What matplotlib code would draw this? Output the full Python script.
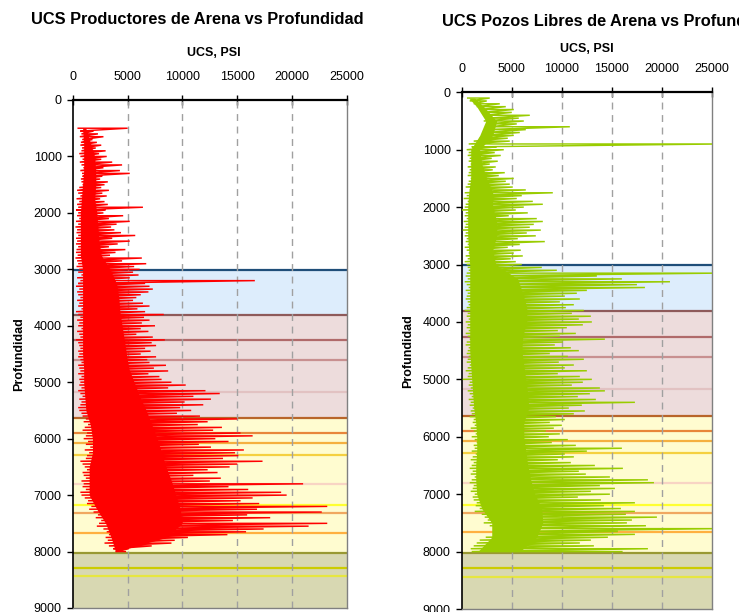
import numpy as np
import matplotlib
matplotlib.use("Agg")
import matplotlib.pyplot as plt

plt.rcParams['font.family'] = ['Liberation Sans', 'DejaVu Sans']

# ---------------- data ----------------
# Left panel: Productores de Arena (depth 500..8000 step 50), UCS low / high of trace
prod_depth = list(range(500, 8001, 50))
prod_low = [
    500, 700, 800, 650, 900, 750, 700, 850, 800, 600,
    700, 900, 650, 800, 1000, 700, 850, 900, 750, 800,
    900, 600, 400, 500, 700, 350, 600, 400, 500, 300,
    500, 400, 600, 300, 500, 250, 400, 350, 500, 300,
    400, 300, 500, 350, 300, 450, 250, 400, 500, 350,
    600, 500, 800, 400, 700, 500, 300, 600, 400, 500,
    700, 400, 600, 500, 800, 300, 500, 700, 400, 600,
    500, 800, 400, 600, 700, 300, 500, 600, 700, 500,
    600, 500, 700, 800, 500, 600, 700, 500, 800, 600,
    700, 600, 800, 500, 700, 900, 600, 800, 700, 500,
    600, 800, 900, 1200, 1000, 1400, 1100, 900, 1300, 1200,
    1000, 1400, 1200, 1600, 1100, 1500, 1300, 1200, 700, 900,
    1100, 1300, 900, 1000, 1200, 800, 1000, 900, 1200, 700,
    800, 1100, 1400, 1300, 1700, 1500, 1900, 2300, 2100, 2600,
    2400, 2200, 2800, 3100, 3300, 3000, 3200, 2900, 3300, 3700,
    3900,
]
prod_high = [
    5000, 1900, 2300, 2800, 1800, 2200, 2600, 2100, 3000, 2400,
    3100, 2600, 3600, 4500, 2800, 4300, 5200, 2700, 2500, 3200,
    2900, 2600, 3300, 2700, 3100, 2500, 2900, 3200, 6400, 3000,
    2800, 4600, 3300, 5200, 4000, 3500, 3800, 4400, 5700, 3600,
    5200, 4100, 3300, 4800, 3900, 3400, 6300, 4500, 6700, 5600,
    6100, 5500, 6000, 5200, 16600, 6600, 7000, 7300, 6900, 6200,
    5800, 5500, 6400, 7000, 5900, 6600, 8300, 6500, 7000, 6300,
    7500, 6200, 6900, 5800, 7300, 8400, 7200, 7600, 6600, 7100,
    6200, 7600, 6800, 7000, 8500, 7400, 8700, 6900, 7900, 8100,
    9000, 10300, 8700, 12100, 13400, 11000, 12600, 10200, 11900, 9800,
    10800, 9500, 11600, 15000, 12300, 11400, 13600, 12800, 15300, 16400,
    13000, 14200, 11500, 12600, 15600, 14800, 15100, 13700, 17300, 15000,
    14300, 12300, 13200, 11000, 13500, 12500, 21000, 14200, 16000, 19000,
    19500, 16400, 15300, 17000, 23200, 16800, 22700, 15900, 18000, 14600,
    23200, 21500, 17400, 15800, 14100, 10500, 9300, 9000, 7200, 5100,
    4800,
]
# dense (solid) part of the trace, every 250 ft
prod_core_depth = list(range(500, 8001, 250))
prod_core_lo = [
    900, 1000, 1000, 1000, 900, 800, 700, 700, 700, 700,
    900, 900, 900, 900, 900, 900, 900, 1000, 1000, 1100,
    1200, 1600, 1800, 1800, 1500, 1500, 1500, 2200, 3000, 3500,
    3900,
]
prod_core_hi = [
    1200, 1600, 2000, 2100, 2100, 2000, 2200, 2300, 2400, 2600,
    3400, 4000, 4200, 4300, 4500, 4700, 4900, 5100, 5600, 6100,
    6700, 7200, 7700, 8100, 8500, 9000, 9400, 9800, 10000, 8500,
    4000,
]

# Right panel: Pozos Libres de Arena (depth 100..8000 step 50)
libre_depth = list(range(100, 8001, 50))
libre_low = [
    600, 800, 1200, 1500, 1800, 2000, 2300, 2600, 2200, 2500,
    2800, 2600, 2400, 2200, 1800, 1200, 700, 1000, 500, 700,
    600, 800, 700, 900, 600, 800, 700, 600, 900, 700,
    600, 400, 800, 300, 500, 200, 600, 400, 300, 0,
    400, 300, 500, 200, 400, 300, 100, 400, 300, 500,
    400, 600, 300, 500, 700, 400, 600, 300, 500, 600,
    700, 500, 400, 600, 300, 500, 700, 400, 600, 500,
    400, 600, 700, 500, 300, 600, 500, 700, 400, 600,
    500, 700, 400, 600, 800, 500, 400, 700, 600, 500,
    700, 600, 500, 800, 600, 400, 700, 600, 100, 800,
    700, 900, 600, 800, 1000, 700, 900, 800, 1100, 900,
    1000, 800, 1200, 1100, 1300, 900, 1200, 1400, 1000, 1300,
    1500, 1200, 1300, 1000, 1400, 1100, 900, 1200, 1000, 800,
    1100, 900, 1300, 1000, 800, 1200, 1100, 900, 1300, 1100,
    1200, 1500, 1400, 1800, 1300, 2000, 2300, 2600, 2200, 2800,
    3600, 3900, 3200, 2400, 1800, 1500, 1200, 900, 1000,
]
libre_high = [
    2800, 2500, 3800, 4400, 5200, 5000, 6800, 5700, 6200, 5500,
    10800, 6400, 5800, 5200, 4600, 4800, 26000, 3500, 4200, 3300,
    3900, 3000, 3600, 2800, 3400, 3100, 4300, 3700, 5200, 4400,
    4800, 5100, 6400, 9100, 6000, 5500, 7100, 8100, 6200, 5400,
    6600, 4700, 7500, 8100, 7200, 6800, 7900, 6500, 7400, 5600,
    8300, 5800, 4600, 5900, 5200, 6100, 4900, 5400, 6000, 8000,
    9500, 25500, 13500, 16000, 20800, 17500, 18300, 12500, 11500, 10300,
    11800, 9800, 11200, 10400, 12200, 11000, 12900, 11700, 13000, 12100,
    10500, 9600, 11400, 9800, 14300, 10100, 9300, 10900, 11700, 8800,
    10600, 12200, 9700, 11200, 10300, 12500, 9600, 11800, 13000, 12100,
    11000, 13800, 14300, 12800, 11600, 13400, 17300, 12000, 10700, 12300,
    11200, 9400, 10300, 8800, 10000, 9200, 8400, 9800, 8700, 10600,
    9000, 11400, 16000, 12500, 10300, 11200, 9600, 10900, 13300, 16100,
    11700, 12400, 14800, 18600, 19200, 13800, 15300, 12900, 14800, 11600,
    13900, 17300, 14200, 15900, 17300, 16400, 19500, 17000, 16500, 18400,
    25500, 15600, 17300, 14600, 12900, 11800, 13200, 18600, 16000,
]
libre_core_depth = [100] + list(range(250, 8001, 250))
libre_core_lo = [
    700, 1500, 2400, 1800, 900, 900, 900, 700, 600, 600,
    600, 700, 800, 800, 800, 800, 800, 800, 800, 900,
    1000, 1100, 1200, 1400, 1500, 1500, 1400, 1400, 1500, 2000,
    3000, 3000, 1600,
]
libre_core_hi = [
    1300, 2200, 3500, 3100, 1800, 2000, 2500, 3100, 3100, 3500,
    3500, 3100, 3400, 5600, 6100, 6500, 6500, 6100, 6000, 6200,
    6400, 6600, 6700, 6200, 6200, 6400, 6600, 6900, 7300, 8000,
    8100, 7500, 5800,
]

x_ticks = [0, 5000, 10000, 15000, 20000, 25000]
y_ticks = [0, 1000, 2000, 3000, 4000, 5000, 6000, 7000, 8000, 9000]

# zone bands (top, bottom, fill colour)
bands = [
    (3010, 3815, '#DDEDFC'),
    (3815, 5630, '#EDDCDC'),
    (5630, 8030, '#FFFCD0'),
    (8030, 9000, '#D8D8B2'),
]
# marker lines (depth, colour)
markers = [
    (3010, '#1F4E79'),
    (3815, '#8E5A5A'),
    (4260, '#B06A6A'),
    (4615, '#C89090'),
    (5165, '#E2C2C2'),
    (5630, '#B8652A'),
    (5900, '#E8863A'),
    (6070, '#F5B040'),
    (6285, '#F5D040'),
    (6805, '#F8D4C4'),
    (7180, '#FFFF30'),
    (7325, '#F0A860'),
    (7665, '#FFB040'),
    (8030, '#999933'),
    (8290, '#CCCC00'),
    (8440, '#E6E640'),
]

W, H = 739, 612
fig = plt.figure(figsize=(W / 100, H / 100), dpi=100)


def make_panel(rect, depth, low, high, core_d, core_lo, core_hi, color, xlabel_xy):
    ax = fig.add_axes(rect)
    ax.set_xlim(0, 25000)
    ax.set_ylim(9000, 0)
    for top, bot, c in bands:
        ax.axhspan(top, bot, color=c, zorder=0, lw=0)
    for d, c in markers:
        ax.axhline(d, color=c, lw=1.6, zorder=1)
    for xv in x_ticks[1:-1]:
        ax.axvline(xv, color='#A0A0A0', lw=1.0, ls=(0, (5, 4)), zorder=2)
    ax.fill_betweenx(core_d, core_lo, core_hi, color=color, lw=0, zorder=3)
    # trace: low -> high at each sampled depth, then on to the next depth
    xs = np.column_stack([low, high]).ravel()
    ys = np.repeat(depth, 2)
    ax.plot(xs, ys, color=color, lw=1.05, zorder=3, solid_joinstyle='miter')
    ax.xaxis.set_ticks_position('top')
    ax.xaxis.set_label_position('top')
    ax.set_xticks(x_ticks)
    ax.set_xticklabels([str(v) for v in x_ticks])
    ax.set_yticks(y_ticks)
    ax.set_yticklabels([str(v) for v in y_ticks])
    ax.tick_params(axis='x', direction='inout', length=7, width=1, pad=9,
                   labelsize=9, colors='black')
    ax.tick_params(axis='y', direction='out', length=4, width=1, pad=4,
                   labelsize=9)
    ax.spines['top'].set_linewidth(1.6)
    ax.spines['top'].set_color('black')
    ax.spines['left'].set_linewidth(1.2)
    ax.spines['left'].set_color('black')
    for s in ('right', 'bottom'):
        ax.spines[s].set_color('#808080')
        ax.spines[s].set_linewidth(1.0)
    ax.set_ylabel('Profundidad', fontsize=9, fontweight='bold', labelpad=6)
    fig.text(xlabel_xy[0] / W, 1 - xlabel_xy[1] / H, 'UCS, PSI', ha='center',
             va='center', fontsize=9, fontweight='bold')
    return ax


ax1 = make_panel([72.7 / W, 1 - 608 / H, 274.3 / W, 508 / H],
                 prod_depth, prod_low, prod_high,
                 prod_core_depth, prod_core_lo, prod_core_hi,
                 '#FF0000', (214, 53))
ax2 = make_panel([461.7 / W, 1 - 609 / H, 250.3 / W, 516.7 / H],
                 libre_depth, libre_low, libre_high,
                 libre_core_depth, libre_core_lo, libre_core_hi,
                 '#99CC00', (587, 49))

fig.text(197 / W, 1 - 20 / H, 'UCS Productores de Arena vs Profundidad',
         ha='center', va='center', fontsize=11.8, fontweight='bold')
fig.text(441.7 / W, 1 - 22 / H, 'UCS Pozos Libres de Arena vs Profundidad',
         ha='left', va='center', fontsize=11.8, fontweight='bold')

fig.savefig('out.png', dpi=100)
